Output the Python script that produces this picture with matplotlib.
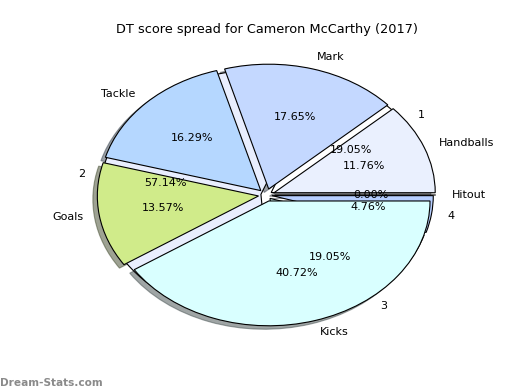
import matplotlib
matplotlib.use("Agg")
import matplotlib.pyplot as plt

# Main pie: DT score by stat type
stat_labels = ["Handballs", "Mark", "Tackle", "Goals", "Kicks", "Hitout"]
stat_points = [26, 39, 36, 30, 90, 0]
stat_colors = ["#eaf0fe", "#c4d8ff", "#b5d7ff", "#d0eb8a", "#d9ffff", "#b6ceff"]

# Secondary pie (drawn underneath)
q_labels = ["1", "2", "3", "4"]
q_values = [4, 12, 4, 1]
q_colors = ["#ffffff", "#e9eefe", "#d9ffff", "#b6ceff"]

title = "DT score spread for Cameron McCarthy (2017)"

fig = plt.figure(figsize=(5.2, 3.9), dpi=100)
ax = fig.add_axes([0.125, 0.1, 0.775, 0.8])

ax.pie(q_values, labels=q_labels, colors=q_colors, autopct="%.2f%%",
       explode=[0.035] * len(q_values), shadow=False,
       wedgeprops=dict(edgecolor="black", linewidth=0.8),
       textprops=dict(fontsize=8))
ax.pie(stat_points, labels=stat_labels, colors=stat_colors, autopct="%.2f%%",
       explode=[0.05] * len(stat_points), shadow=True,
       wedgeprops=dict(edgecolor="black", linewidth=0.8),
       textprops=dict(fontsize=8))

ax.set_aspect("auto")
ax.set_xlim(-1.25, 1.25)
ax.set_ylim(-1.25, 1.25)
ax.set_title(title, fontsize=9.3, pad=4)

fig.text(0.0, 0.006, "Dream-Stats.com", fontsize=7.6, color="#8a8a8a",
         fontweight="bold", ha="left", va="bottom")

fig.savefig("out.png", dpi=100)
